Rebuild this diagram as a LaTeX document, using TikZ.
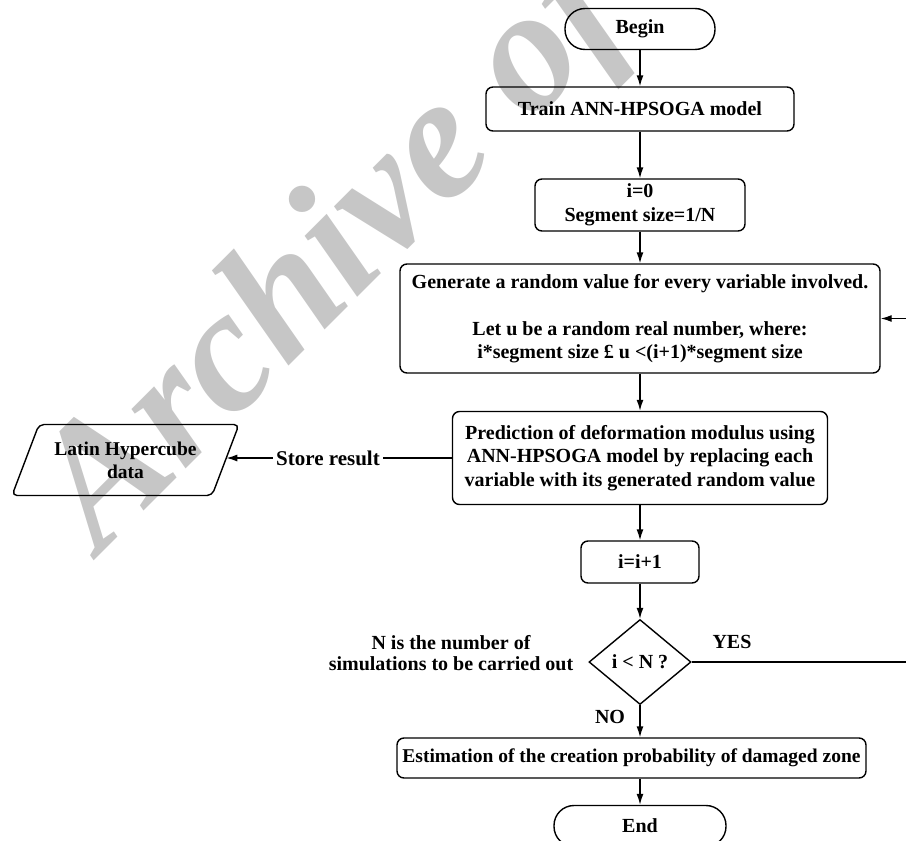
\documentclass[tikz,border=0pt]{standalone}
\usepackage{fontspec}
\setmainfont{Liberation Serif}
\usetikzlibrary{shapes.geometric,arrows.meta}
\definecolor{wm}{RGB}{198,198,198}
\begin{document}
\begin{tikzpicture}[x=1pt,y=-1pt,
  every node/.style={font=\fontsize{20}{23.5}\selectfont\bfseries},
  box/.style={draw, line width=1.4pt, rounded corners=7pt, inner sep=0pt, align=center},
  term/.style={draw, line width=1.4pt, rounded corners=20pt, inner sep=0pt},
  arr/.style={line width=1.4pt, -{Latex[length=11pt,width=7pt]}},
  ln/.style={line width=1.4pt}]
\useasboundingbox (0,0) rectangle (906,841);
\clip (0,0) rectangle (906,841);
% watermark
\node[text=wm, font=\fontsize{175}{175}\selectfont\bfseries\itshape, rotate=45, anchor=base west] (wmark) at (98,557) {Archive of SID};
% main column
\node[term, minimum width=150pt, minimum height=41pt] (begin) at (640,29) {Begin};
\node[box, minimum width=308pt, minimum height=44pt] (train) at (640,109) {Train ANN-HPSOGA model};
\node[box, minimum width=210pt, minimum height=52pt] (init) at (640,205) {i=0\\Segment size=1/N};
\node[box, minimum width=480pt, minimum height=109pt] (gen) at (640,318.5) {Generate a random value for every variable involved.\\[23.5pt]Let u be a random real number, where:\\i*segment size £ u <(i+1)*segment size};
\node[box, minimum width=375pt, minimum height=93pt] (pred) at (640,458) {Prediction of deformation modulus using\\ANN-HPSOGA model by replacing each\\variable with its generated random value};
\node[box, minimum width=118pt, minimum height=42pt] (inc) at (640,562) {i=i+1};
\node[diamond, draw, line width=1.4pt, inner sep=0pt, minimum width=102pt, minimum height=85pt] (dec) at (640,662) {i < N ?};
\node[box, minimum width=469pt, minimum height=40pt, font=\fontsize{19.5}{23}\selectfont\bfseries] (est) at (631.5,758) {Estimation of the creation probability of damaged zone};
\node[term, minimum width=172pt, minimum height=41pt] (end) at (640,826) {End};
% side elements
\node[trapezium, draw, line width=1.4pt, trapezium left angle=56.5, trapezium right angle=123.5, trapezium stretches body, rounded corners=5pt, inner sep=2pt, minimum width=227pt, minimum height=71pt, align=center, font=\fontsize{19.5}{23}\selectfont\bfseries] (data) at (125.5,460) {Latin Hypercube\\data};
\node[font=\fontsize{21}{24}\selectfont\bfseries] (store) at (328,458) {Store result};
\node[align=center, font=\fontsize{20}{21}\selectfont\bfseries] (note) at (451,653) {N is the number of\\simulations to be carried out};
\node (yes) at (732,642) {YES};
\node (no) at (610,717) {NO};
\coordinate (yesout) at (906,662);
\coordinate (yesin) at (906,318.5);
% connectors
\draw[arr] (begin) -- (train);
\draw[arr] (train) -- (init);
\draw[arr] (init) -- (gen);
\draw[arr] (gen) -- (pred);
\draw[arr] (pred) -- (inc);
\draw[arr] (inc) -- (dec);
\draw[arr] (dec.south) -- (dec.south |- est.north);
\draw[arr] (end.north |- est.south) -- (end.north);
\draw[ln] (pred.west) -- (store.east);
\draw[arr] (store.west) -- (store.west -| data.east);
\draw[ln] (dec.east) -- (yesout);
\draw[arr] (yesin) -- (gen.east);
\end{tikzpicture}
\end{document}
